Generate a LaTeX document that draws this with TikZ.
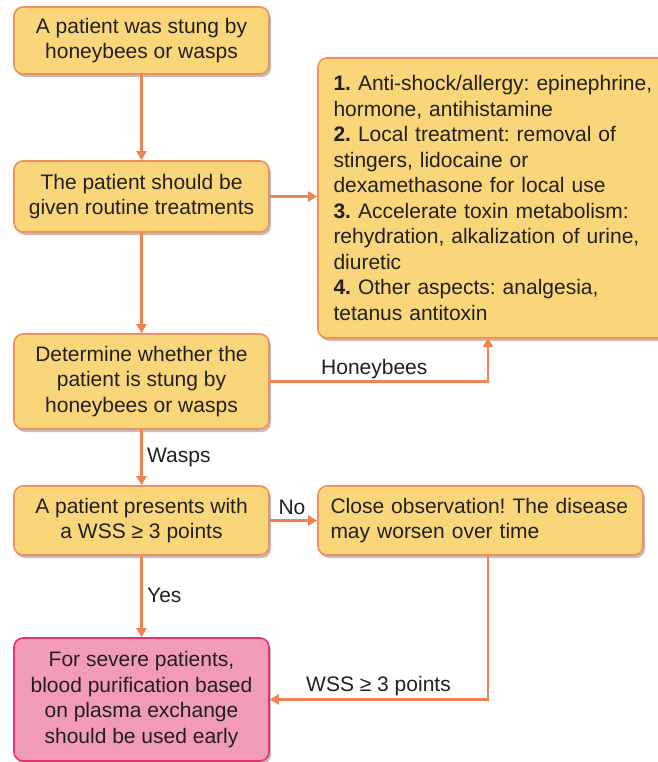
\documentclass[tikz,border=0pt]{standalone}
\usepackage{fontspec}
\setmainfont{Liberation Sans}
\usetikzlibrary{arrows.meta,shadows,calc}
\frenchspacing
\definecolor{boxfill}{HTML}{F9D67A}
\definecolor{boxline}{HTML}{F0905A}
\definecolor{arr}{HTML}{EE8455}
\definecolor{pinkfill}{HTML}{F29BB8}
\definecolor{pinkline}{HTML}{E2356C}
\definecolor{txt}{HTML}{231F20}
\tikzset{
  box/.style={draw=boxline, fill=boxfill, line width=1.6pt, rounded corners=9pt,
    minimum width=255pt, align=center, inner sep=0pt, text=txt,
    drop shadow={shadow xshift=2pt, shadow yshift=-3pt, fill=black, opacity=0.25}},
  pinkbox/.style={box, draw=pinkline, fill=pinkfill},
  conn/.style={draw=arr, line width=2.4pt, -{Triangle[width=10pt,length=9pt]}},
  lbl/.style={text=txt, inner sep=0pt},
}
\begin{document}
\begin{tikzpicture}[x=1pt,y=-1pt,font=\fontsize{21}{25.5}\selectfont]
\useasboundingbox (0,0) rectangle (657,762);
\node[box, minimum height=67pt] (b1) at (141.5,40.5) {A patient was stung by\\honeybees or wasps};
\node[box, minimum height=71pt] (b2) at (141.5,196.5) {The patient should be\\given routine treatments};
\node[box, minimum width=356pt, minimum height=280pt, text width=325pt, align=left] (list) at (496,198)
 {\textbf{1.} Anti-shock/allergy: epinephrine,\\hormone, antihistamine\\\textbf{2.} Local treatment: removal of\\stingers, lidocaine or\\dexamethasone for local use\\\textbf{3.} Accelerate toxin metabolism:\\rehydration, alkalization of urine,\\diuretic\\\textbf{4.} Other aspects: analgesia,\\tetanus antitoxin};
\node[box, minimum width=325pt, minimum height=69pt, text width=300pt, align=left] (b5) at (480.5,520.5) {Close observation! The disease\\may worsen over time};
\node[box, minimum height=95pt] (b3) at (141.5,381.5) {Determine whether the\\patient is stung by\\honeybees or wasps};
\node[box, minimum height=69pt] (b4) at (141.5,520.5) {A patient presents with\\a WSS ≥ 3 points};
\node[pinkbox, minimum height=123pt] (b6) at (141.5,699.5) {For severe patients,\\blood purification based\\on plasma exchange\\should be used early};

\coordinate (hb) at (488,338);
\draw[conn] (b1) -- (b2);
\draw[conn] (b2) -- (b2.east -| list.west);
\draw[conn] (b2) -- (b3);
\draw[conn] (b3.east) -| (hb);
\draw[conn] (b3) -- (b4);
\draw[conn] (b4) -- (b5);
\draw[conn] (b4) -- (b6);
\draw[conn] (b5.south -| hb) |- (b6.east);

\node[lbl, anchor=west] (lh) at (321,369) {Honeybees};
\node[lbl, anchor=west] (lw) at (147,457) {Wasps};
\node[lbl] (ln) at (292,507) {No};
\node[lbl, anchor=west] (ly) at (147,595) {Yes};
\node[lbl, anchor=west] (lwss) at (306,686) {WSS ≥ 3 points};
\end{tikzpicture}
\end{document}
